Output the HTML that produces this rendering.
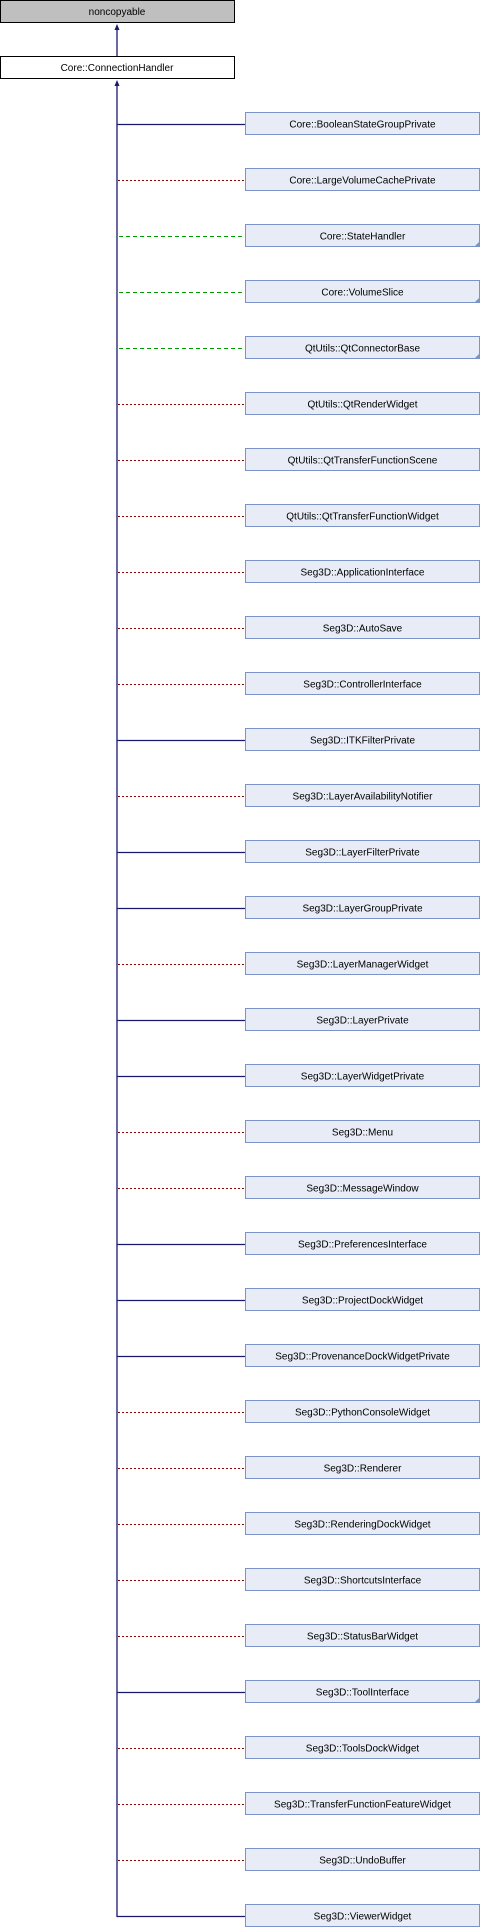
<!DOCTYPE html>
<html><head><meta charset="utf-8"><style>
html,body{margin:0;padding:0;background:#fff;width:480px;height:1928px;overflow:hidden}
svg{display:block}
text{font-family:"Liberation Sans",sans-serif;font-size:10px;fill:#000;text-anchor:middle}
.b{fill:#e8ecf6;stroke:#7b93c9;stroke-width:1}
.s{stroke:#191970;stroke-width:1.3}
.r{stroke:#8b0000;stroke-width:1;stroke-dasharray:2,2}
.g{stroke:#009900;stroke-width:1;stroke-dasharray:4,3}
</style></head><body>
<svg width="480" height="1928" viewBox="0 0 480 1928" xmlns="http://www.w3.org/2000/svg">
<rect x="0.5" y="0.5" width="234" height="22" fill="#bfbfbf" stroke="#000"/>
<text x="117" y="15">noncopyable</text>
<rect x="0.5" y="56.5" width="234" height="22" fill="#fff" stroke="#000"/>
<text x="117" y="71">Core::ConnectionHandler</text>
<line x1="117" y1="28" x2="117" y2="56" class="s"/>
<polygon points="117,24 114.5,30 119.5,30" fill="#191970"/>
<line x1="117" y1="84" x2="117" y2="1917" class="s"/>
<polygon points="117,80 114.5,86 119.5,86" fill="#191970"/>
<g id="c"></g>
<script>
var items=[
["Core::BooleanStateGroupPrivate","s",0],
["Core::LargeVolumeCachePrivate","r",0],
["Core::StateHandler","g",1],
["Core::VolumeSlice","g",1],
["QtUtils::QtConnectorBase","g",1],
["QtUtils::QtRenderWidget","r",0],
["QtUtils::QtTransferFunctionScene","r",0],
["QtUtils::QtTransferFunctionWidget","r",0],
["Seg3D::ApplicationInterface","r",0],
["Seg3D::AutoSave","r",0],
["Seg3D::ControllerInterface","r",0],
["Seg3D::ITKFilterPrivate","s",0],
["Seg3D::LayerAvailabilityNotifier","r",0],
["Seg3D::LayerFilterPrivate","s",0],
["Seg3D::LayerGroupPrivate","s",0],
["Seg3D::LayerManagerWidget","r",0],
["Seg3D::LayerPrivate","s",0],
["Seg3D::LayerWidgetPrivate","s",0],
["Seg3D::Menu","r",0],
["Seg3D::MessageWindow","r",0],
["Seg3D::PreferencesInterface","s",0],
["Seg3D::ProjectDockWidget","s",0],
["Seg3D::ProvenanceDockWidgetPrivate","s",0],
["Seg3D::PythonConsoleWidget","r",0],
["Seg3D::Renderer","r",0],
["Seg3D::RenderingDockWidget","r",0],
["Seg3D::ShortcutsInterface","r",0],
["Seg3D::StatusBarWidget","r",0],
["Seg3D::ToolInterface","s",1],
["Seg3D::ToolsDockWidget","r",0],
["Seg3D::TransferFunctionFeatureWidget","r",0],
["Seg3D::UndoBuffer","r",0],
["Seg3D::ViewerWidget","s",0]];
var ns="http://www.w3.org/2000/svg",g=document.getElementById("c");
function el(t,a,txt){var e=document.createElementNS(ns,t);for(var k in a)e.setAttribute(k,a[k]);if(txt)e.textContent=txt;g.appendChild(e);return e;}
items.forEach(function(it,i){
 var y=112+56*i;
 var x1=it[1]=="s"?117:(it[1]=="g"?119:118);
 el("line",{x1:x1,y1:y+12.5,x2:245,y2:y+12.5,"class":it[1]});
 el("rect",{x:245.5,y:y+0.5,width:234,height:22,"class":"b"});
 if(it[2]) el("polygon",{points:(479)+","+(y+18)+" "+(479)+","+(y+23)+" "+(474)+","+(y+23),fill:"#7b93c9"});
 el("text",{x:362.5,y:y+15.5},it[0]);
});
</script>
</svg>
</body></html>
